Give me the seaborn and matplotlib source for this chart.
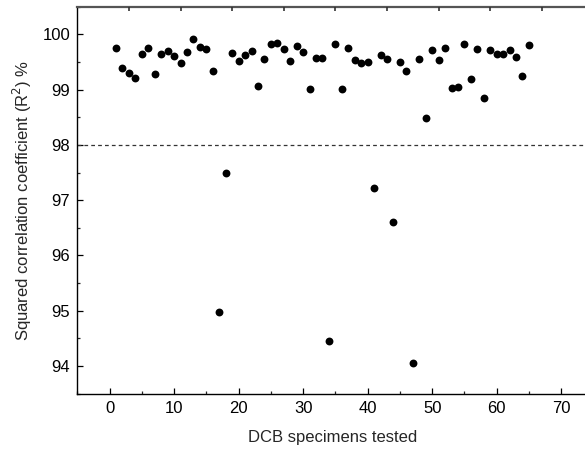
import matplotlib
matplotlib.use("Agg")
import matplotlib.pyplot as plt
from matplotlib.ticker import MultipleLocator, FixedLocator
import seaborn as sns
import pandas as pd

specimen = list(range(1, 66))
r2 = [99.75, 99.39, 99.30, 99.21, 99.65, 99.76, 99.28, 99.65, 99.69, 99.60,
      99.48, 99.68, 99.92, 99.78, 99.73, 99.34, 94.97, 97.49, 99.66, 99.51,
      99.63, 99.69, 99.07, 99.56, 99.83, 99.85, 99.74, 99.52, 99.79, 99.68,
      99.01, 99.57, 99.58, 94.45, 99.82, 99.02, 99.75, 99.54, 99.48, 99.50,
      97.22, 99.62, 99.56, 96.60, 99.50, 99.33, 94.05, 99.56, 98.48, 99.71,
      99.54, 99.76, 99.03, 99.05, 99.83, 99.19, 99.74, 98.85, 99.71, 99.65,
      99.65, 99.71, 99.59, 99.24, 99.80]
threshold = 98
x_ticks = [0, 10, 20, 30, 40, 50, 60, 70]
y_ticks = [94, 95, 96, 97, 98, 99, 100]
top_ticks = [3, 11, 19, 27, 35, 43, 51, 59, 67]

df = pd.DataFrame({"specimen": specimen, "r2": r2})

sns.set_style("white")
plt.rcParams["font.family"] = ["Liberation Sans", "DejaVu Sans"]

fig = plt.figure(figsize=(5.85, 4.5), dpi=100)
ax = fig.add_axes([77.3 / 585, 56.3 / 450, (587 - 77.3) / 585, (393.7 - 6.7) / 450])

sns.scatterplot(data=df, x="specimen", y="r2", ax=ax, s=32, color="black",
                edgecolor="black", linewidth=0, zorder=3)
ax.axhline(threshold, color="#333333", linestyle=(0, (3, 2.5)), linewidth=0.9, zorder=2)

ax.set_xlim(-5, 74)
ax.set_ylim(93.5, 100.5)
ax.set_xticks(x_ticks)
ax.set_yticks(y_ticks)
ax.xaxis.set_minor_locator(MultipleLocator(5))
ax.yaxis.set_minor_locator(MultipleLocator(0.5))
ax.tick_params(which="major", direction="in", length=4, width=0.9, labelsize=12, colors="black", pad=5)
ax.tick_params(which="minor", direction="in", length=2.5, width=0.9)
ax.tick_params(axis="both", which="both", bottom=True, left=True)

for side in ["left", "bottom"]:
    ax.spines[side].set_color("black")
    ax.spines[side].set_linewidth(1.0)
ax.spines["right"].set_visible(False)
ax.spines["top"].set_color("#555555")
ax.spines["top"].set_linewidth(1.6)

ax2 = ax.twiny()
ax2.set_xlim(ax.get_xlim())
ax2.xaxis.set_major_locator(FixedLocator(top_ticks))
ax2.tick_params(axis="x", which="major", direction="in", length=3, width=1.2,
                top=True, bottom=False, labeltop=False, labelbottom=False, colors="#333333")
ax2.tick_params(axis="y", left=False, right=False, labelleft=False, labelright=False)
for side in ["left", "right", "bottom", "top"]:
    ax2.spines[side].set_visible(False)

ax.set_xlabel("DCB specimens tested", fontsize=12, labelpad=10)
ax.set_ylabel("Squared correlation coefficient (R$^2$) %", fontsize=12, labelpad=6)

fig.savefig("out.png", dpi=100)
